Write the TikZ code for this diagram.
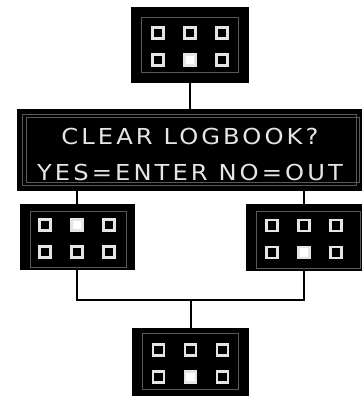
\documentclass[tikz,border=0pt]{standalone}
\usepackage{fontspec}
\newfontfamily\lcdfont[FakeStretch=1.1,LetterSpace=14]{DejaVu Sans}
\definecolor{cornice}{gray}{0.35}
\definecolor{testo}{gray}{0.9}
\tikzset{
  pannello/.style={fill=black, inner sep=0pt},
  riquadro/.style={draw=cornice, line width=0.8pt},
  led/.style={draw=testo, line width=2.2pt},
  ledon/.style={led, fill=white},
  filo/.style={line width=2pt},
}
% sei led, #2 e #3 = colonna e riga di quello acceso
\newcommand{\ledpannello}[3]{%
  \foreach \c in {-1,0,1}
    \foreach \r in {0,1}
      \draw[led] ([shift={(\c*32-5.5,\r*27-17.5)}]#1.center) rectangle ++(11,11);
  \draw[ledon] ([shift={(#2*32-5.5,#3*27-17.5)}]#1.center) rectangle ++(11,11);
}
\begin{document}
\begin{tikzpicture}[x=1pt,y=-1pt]
    \useasboundingbox (0,0) rectangle (363,396);

    % Display superiore
    \node[pannello, minimum width=118pt, minimum height=76pt] (alto) at (190,45) {};
    \draw[riquadro] ([shift={(11,11)}]alto.north west) rectangle ([shift={(-11,-11)}]alto.south east);
    \ledpannello{alto}{0}{1}

    % Messaggio
    \node[pannello, minimum width=345pt, minimum height=82pt] (msg) at (189.5,150) {};
    \draw[riquadro] ([shift={(6,6)}]msg.north west) rectangle ([shift={(-6,-6)}]msg.south east);
    \draw[riquadro] ([shift={(10,9)}]msg.north west) rectangle ([shift={(-3,-9)}]msg.south east);
    \node[text=testo, align=center, font=\lcdfont\fontsize{22}{36}\selectfont]
          (domanda) at (190,154) {CLEAR LOGBOOK?\\YES=ENTER NO=OUT};

    % Display intermedi
    \node[pannello, minimum width=115pt, minimum height=66pt] (sx) at (77,237) {};
    \draw[riquadro] ([shift={(11,8)}]sx.north west) rectangle ([shift={(-8,-3)}]sx.south east);
    \ledpannello{sx}{0}{0}
    \node[pannello, minimum width=116pt, minimum height=67pt] (dx) at (304,237.5) {};
    \draw[riquadro] ([shift={(11,8)}]dx.north west) rectangle ([shift={(-2,-3)}]dx.south east);
    \ledpannello{dx}{0}{1}

    % Display inferiore
    \node[pannello, minimum width=117pt, minimum height=68pt] (basso) at (190.5,362) {};
    \draw[riquadro] ([shift={(11,6)}]basso.north west) rectangle ([shift={(-11,-7)}]basso.south east);
    \ledpannello{basso}{0}{1}

    % Collegamenti
    \draw[filo] (alto.south) -- (alto.south |- msg.north);
    \draw[filo] (sx.north |- msg.south) -- (sx.north);
    \draw[filo] (dx.north |- msg.south) -- (dx.north);
    \coordinate (giunto) at (190.5,300);
    \draw[filo] (sx.south) |- (giunto) -| (dx.south);
    \draw[filo] (giunto) -- (basso.north);
\end{tikzpicture}
\end{document}
